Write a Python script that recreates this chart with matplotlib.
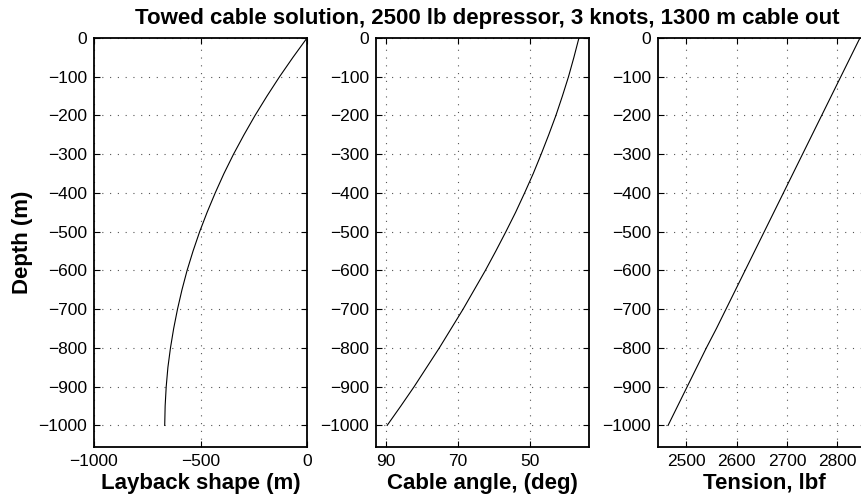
import matplotlib
matplotlib.use("Agg")
import matplotlib.pyplot as plt

# depth stations (m) and values
depth = [0, -50, -100, -150, -200, -250, -300, -350, -400, -450, -500,
         -550, -600, -650, -700, -750, -800, -850, -900, -950, -1000]
layback = [0, -66, -129, -188, -244, -296, -345, -390, -431, -469, -504,
           -535, -563, -587, -608, -626, -641, -653, -661, -666, -668]
angle = [36.4, 37.8, 39.3, 41.0, 42.8, 44.8, 46.9, 49.1, 51.5, 54.0, 56.7,
         59.5, 62.4, 65.5, 68.6, 71.9, 75.2, 78.7, 82.2, 85.9, 89.7]
tension = [2845, 2826, 2807, 2788, 2769, 2750, 2731, 2712, 2693, 2674, 2655,
           2636, 2617, 2598, 2579, 2560, 2540, 2521, 2502, 2483, 2464]

plt.rcParams["font.family"] = ["Liberation Sans", "DejaVu Sans"]

W, H = 861, 498
fig = plt.figure(figsize=(W / 100, H / 100), dpi=100)

bot = 1 - 446.7 / H
hgt = (446.7 - 38) / H
wid = 213 / W
lefts = [94 / W, 376 / W, 658 / W]

panels = [
    (layback, (-1000, 0), [-1000, -500, 0], "Layback shape (m)"),
    (angle, (92.8, 33.6), [90, 70, 50], "Cable angle, (deg)"),
    (tension, (2444, 2867), [2500, 2600, 2700, 2800], "Tension, lbf"),
]

for i, (vals, xl, xt, lab) in enumerate(panels):
    ax = fig.add_axes([lefts[i], bot, wid, hgt])
    ax.plot(vals, depth, color="black", lw=0.8)
    ax.set_xlim(*xl)
    ax.set_ylim(-1055, 0)
    ax.set_xticks(xt)
    ax.set_yticks(range(-1000, 1, 100))
    ax.grid(True, color="#555555", ls=(0, (1, 6)), lw=0.8)
    ax.tick_params(direction="in", length=4, width=0.8, labelsize=12.5,
                   top=True, right=True, pad=5)
    for s in ax.spines.values():
        s.set_linewidth(1.3)
    ax.set_xlabel(lab, fontsize=16, fontweight="bold", labelpad=3)
    if i == 0:
        ax.set_ylabel("Depth (m)", fontsize=16, fontweight="bold")
        ax.yaxis.set_label_coords((33 - 94) / 213, 0.5)

fig.text(487 / W, 1 - 24 / H, "Towed cable solution, 2500 lb depressor, 3 knots, 1300 m cable out",
         ha="center", va="baseline", fontsize=16, fontweight="bold")

fig.savefig("out.png", dpi=100)
